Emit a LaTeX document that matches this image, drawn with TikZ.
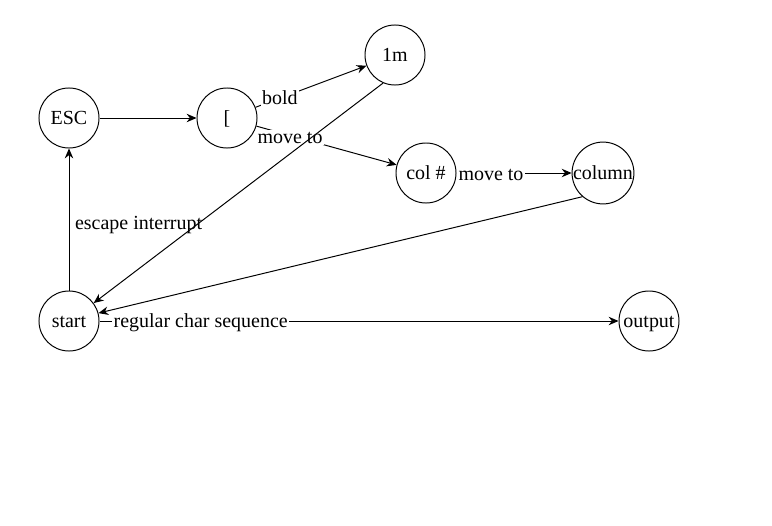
\documentclass[tikz,border=0pt]{standalone}
\usepackage{fontspec}
\setmainfont{Liberation Serif}
\usetikzlibrary{arrows.meta, automata}
\tikzset{
		every state/.style={minimum size=1.5cm, inner sep=0pt, text height=1.0em, text depth=0.1em},
		edge text/.style={fill=white, inner sep=1pt, yshift=-1.5pt}
	}

\begin{document}
\begin{tikzpicture}[x=0.025cm, y=-0.025cm, >={Stealth[length=7pt, width=6pt]}, line width=0.7pt, font=\fontsize{14.2}{17}\selectfont]
				\useasboundingbox (0,0) rectangle (772,526);
				\node[state] (esc)    at (69,118)  {ESC};
				\node[state] (lbr)    at (227,118) {[};
				\node[state] (onem)   at (395,55)  {1m};
				\node[state] (colnum) at (426,173) {col \#};
				\node[state] (column) at (603,173) {column};
				\node[state] (start)  at (69,321)  {start};
				\node[state] (output) at (649,321) {output};

				\path[->](esc)    edge                                 (lbr);
				\path[->](start)  edge node[right, inner sep=4pt, pos=0.46] {escape interrupt} (esc);
				\path[->](lbr)    edge node[edge text, pos=0.22, yshift=1.5pt] {bold} (onem);
				\path[->](lbr)    edge node[edge text, pos=0.24] {move to} (colnum);
				\path[->](colnum) edge node[edge text, pos=0.3]  {move to} (column);
				\path[->](start)  edge node[edge text, pos=0.195] {regular char sequence} (output);
				\path[->](onem.247)   edge (start.36);
				\path[->](column.229) edge (start.15);
			\end{tikzpicture}
\end{document}
